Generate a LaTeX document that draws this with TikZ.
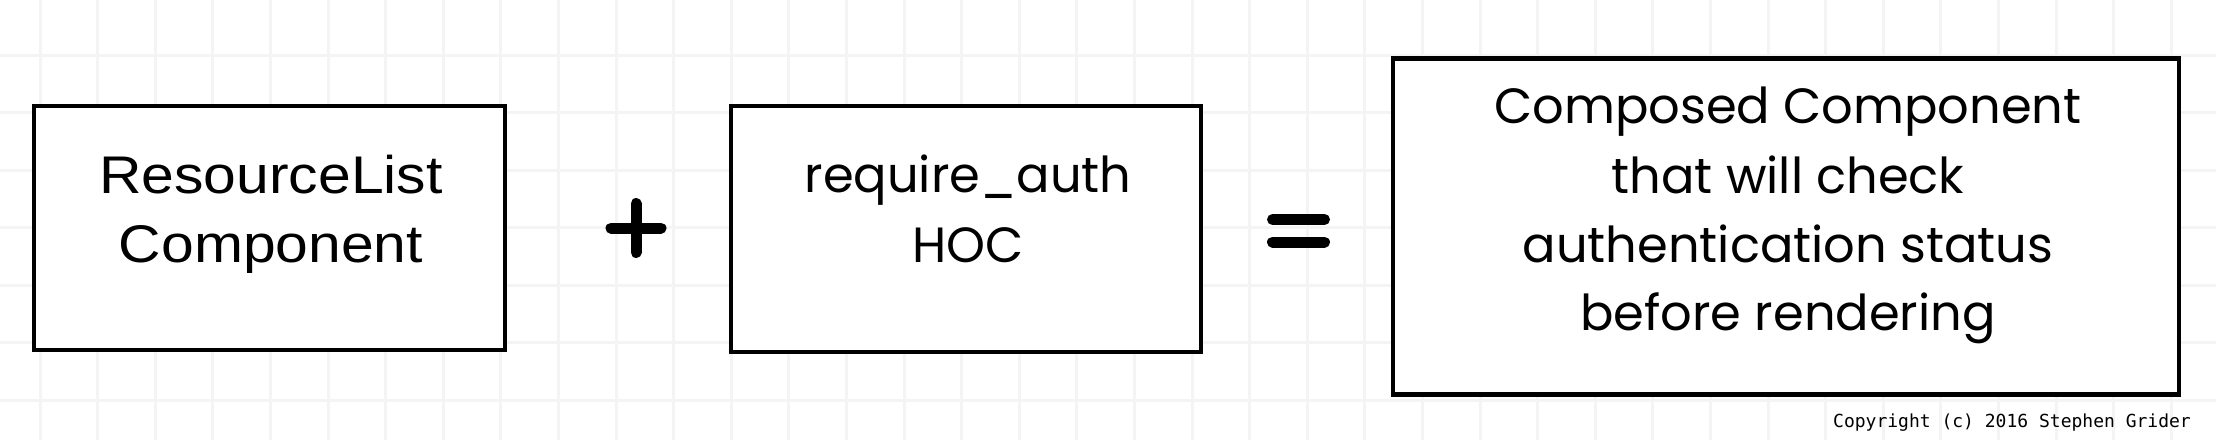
\documentclass[tikz,border=0pt]{standalone}
\usepackage{fontspec}
\setmainfont{Liberation Sans}
\newfontfamily\widefont[FakeStretch=1.11]{Liberation Sans}
\newfontfamily\roundfont{Poppins}
\newfontfamily\codefont{DejaVu Sans Mono}
\definecolor{gridc}{HTML}{F4F4F4}
\tikzset{
  px/.style={x=1pt,y=-1pt},
  sketchbox/.style={draw=black, line width=4.5pt, fill=white},
  boxtext/.style={align=center, font=\widefont\fontsize{53}{69}\selectfont, inner sep=0pt},
  roundtext/.style={align=center, font=\roundfont\fontsize{49.5}{69}\selectfont, inner sep=0pt},
  opline/.style={line width=11pt, line cap=round},
  gridline/.style={draw=gridc, line width=3pt}
}
\begin{document}
\begin{tikzpicture}[px]
\useasboundingbox (0,0) rectangle (2216,440);
\fill[white] (0,0) rectangle (2216,440);
% grid
\foreach \i in {0,...,38} {
  \draw[gridline] ({40+57.6*\i},0) -- ({40+57.6*\i},440);
}
\foreach \j in {0,...,7} {
  \draw[gridline] (0,{-2.5+57.5*\j}) -- (2216,{-2.5+57.5*\j});
}
% boxes
\node[sketchbox, minimum width=471pt, minimum height=244pt, inner sep=0pt] (b1) at (269.5,228) {};
\node[sketchbox, minimum width=470pt, minimum height=246pt, inner sep=0pt] (b2) at (966,229) {};
\node[sketchbox, minimum width=786pt, minimum height=336pt, inner sep=0pt] (b3) at (1786,226.5) {};
% texts
\node[boxtext, anchor=base] (t1a) at (271,193) {ResourceList};
\node[boxtext, anchor=base] (t1b) at (271,262) {Component};
\node[roundtext, anchor=base] (t2a) at (968,192) {require\_auth};
\node[roundtext, anchor=base] (t2b) at (968,262) {HOC};
\node[roundtext, anchor=base] (t3a) at (1788,123) {Composed Component};
\node[roundtext, anchor=base] (t3b) at (1788,193) {that will check};
\node[roundtext, anchor=base] (t3c) at (1788,262) {authentication status};
\node[roundtext, anchor=base] (t3d) at (1788,330) {before rendering};
% operators
\coordinate (pc) at (636,228);
\draw[opline] ([xshift=-25pt]pc) -- ([xshift=25pt]pc);
\draw[opline] ([yshift=-24.5pt]pc) -- ([yshift=24.5pt]pc);
\coordinate (ec) at (1298.5,231);
\draw[opline] ([xshift=-26pt,yshift=11.5pt]ec) -- ([xshift=26pt,yshift=11.5pt]ec);
\draw[opline] ([xshift=-26pt,yshift=-11pt]ec) -- ([xshift=26pt,yshift=-11pt]ec);
% copyright
\node[anchor=base east, inner sep=0pt, font=\codefont\fontsize{18}{20}\selectfont] (copy) at (2191,427) {Copyright (c) 2016 Stephen Grider};
\end{tikzpicture}
\end{document}
